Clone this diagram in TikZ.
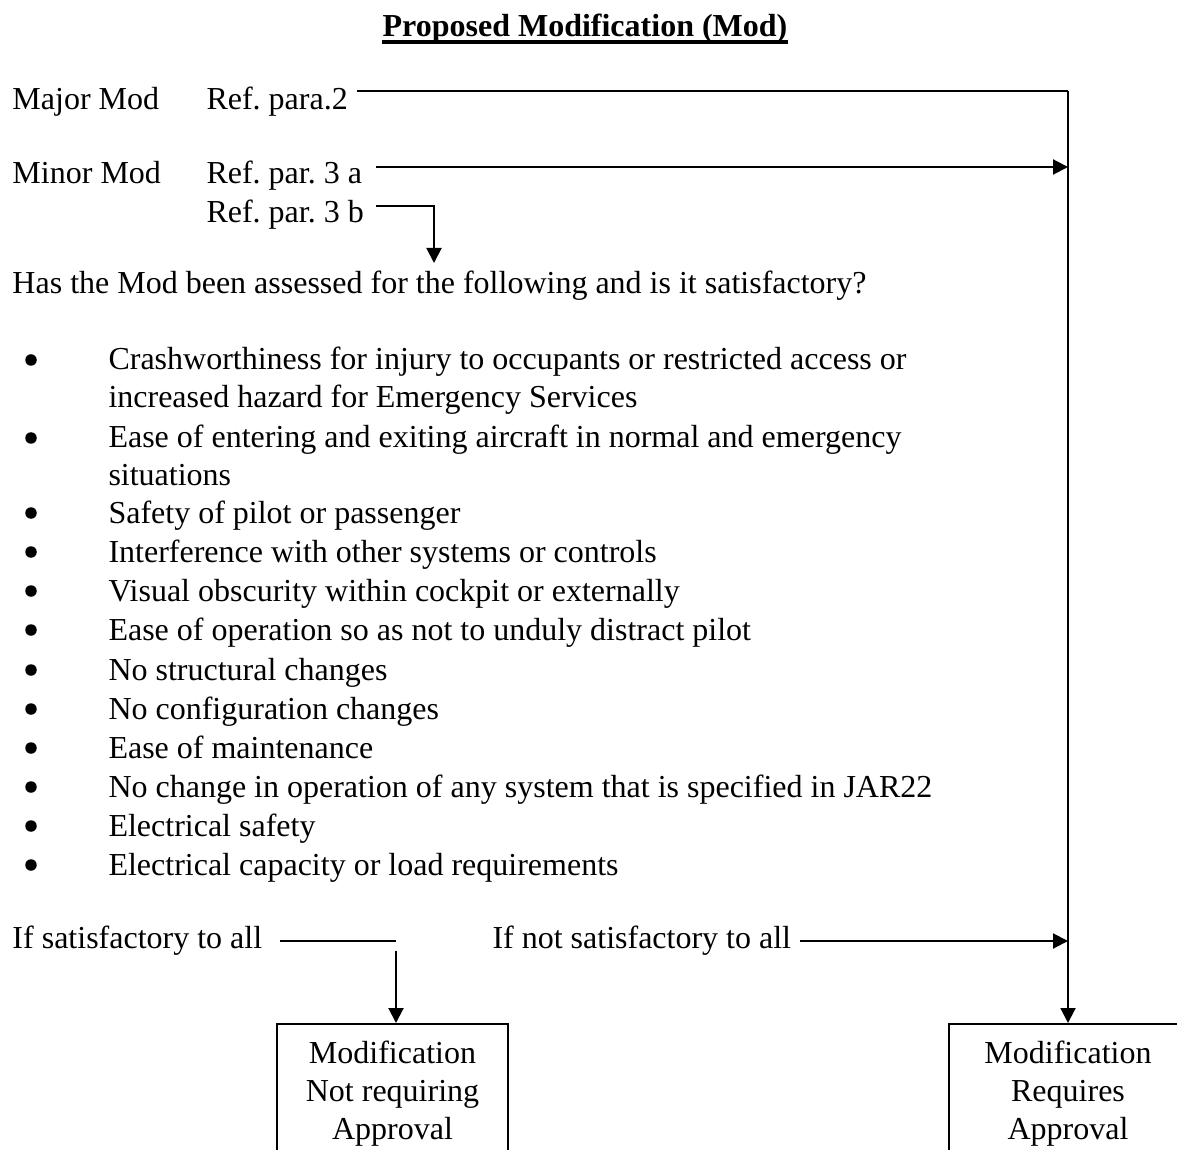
\documentclass[tikz,border=0pt]{standalone}
\usepackage{fontspec}
\setmainfont{Liberation Serif}
\usetikzlibrary{arrows.meta}
\frenchspacing
\begin{document}
\begin{tikzpicture}[x=0.4pt,y=-0.4pt,
  txt/.style={anchor=base west,inner sep=0pt,font=\fontsize{12.8}{15}\selectfont},
  bul/.style={circle,fill,inner sep=0pt,minimum size=4.6pt},
  ln/.style={line width=0.8pt},
  arr/.style={ln,-{Triangle[length=6pt,width=6pt]}},
  resbox/.style={draw,line width=0.8pt,anchor=north,inner sep=0pt,align=center,
    minimum height=56pt,font=\fontsize{12.8}{15.2}\selectfont}]
\useasboundingbox (0,0) rectangle (1177,1150);
\clip (0,0) rectangle (1177,1150);

% title
\node[anchor=base,inner sep=0pt,font=\bfseries\fontsize{12.8}{15}\selectfont] (title) at (585,37) {Proposed Modification (Mod)};
\draw[line width=1.4pt] ([yshift=-2.1pt]title.base west) -- ([yshift=-2.1pt]title.base east);

% top part
\node[txt] (major) at (12,110) {Major Mod};
\node[txt] (refmaj) at (206,110) {Ref. para.2};
\node[txt] (minor) at (12,184) {Minor Mod};
\node[txt] (ref3a) at (206,184) {Ref. par. 3 a};
\node[txt] (ref3b) at (206,223) {Ref. par. 3 b};
\node[txt] (has) at (12,294) {Has the Mod been assessed for the following and is it satisfactory?};

% bullets
\foreach \y/\t [count=\i] in {
  370/Crashworthiness for injury to occupants or restricted access or,
  448/Ease of entering and exiting aircraft in normal and emergency,
  523/Safety of pilot or passenger,
  562/Interference with other systems or controls,
  601/Visual obscurity within cockpit or externally,
  640/Ease of operation so as not to unduly distract pilot,
  680/No structural changes,
  719/No configuration changes,
  758/Ease of maintenance,
  797/No change in operation of any system that is specified in JAR22,
  836/Electrical safety,
  875/Electrical capacity or load requirements}{
  \node[bul] (b\i) at (31,\y-10) {};
  \node[txt] (it\i) at (108,\y) {\t};
}
\node[txt] (it1b) at (108,408) {increased hazard for Emergency Services};
\node[txt] (it2b) at (108,486) {situations};

% bottom
\node[txt] (sat) at (12,948) {If satisfactory to all};
\node[txt] (notsat) at (492,948) {If not satisfactory to all};

\node[resbox,minimum width=92.4pt] (notbox) at (392.5,1023) {Modification\\Not requiring\\Approval};
\node[resbox,minimum width=95.2pt] (reqbox) at (1068,1023) {Modification\\Requires\\Approval};

% connectors
\coordinate (majS) at (357,91);
\coordinate (railT) at (1068,91);
\coordinate (minS) at (376,167);
\coordinate (minE) at (1068,167);
\coordinate (bS) at (376,206);
\coordinate (bC) at (434,206);
\coordinate (bE) at (434,263);
\coordinate (satS) at (280,941);
\coordinate (satE) at (396,941);
\coordinate (satD) at (396,951);
\coordinate (nsS) at (800,941);
\coordinate (nsE) at (1068,941);

\draw[ln] (majS) -- (railT);
\draw[arr] (railT) -- (reqbox.north);
\draw[arr] (minS) -- (minE);
\draw[arr] (bS) -- (bC) -- (bE);
\draw[ln] (satS) -- (satE);
\draw[arr] (satD) -- (satD |- notbox.north);
\draw[arr] (nsS) -- (nsE);
\end{tikzpicture}
\end{document}
